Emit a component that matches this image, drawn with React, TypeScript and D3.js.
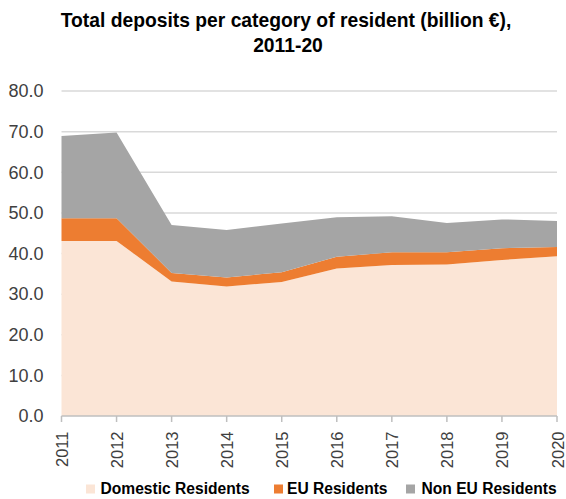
import React from "react";
import * as d3 from "d3";

const years = ["2011", "2012", "2013", "2014", "2015", "2016", "2017", "2018", "2019", "2020"];
const domestic = [43.1, 43.1, 33.1, 31.9, 33.0, 36.3, 37.2, 37.3, 38.4, 39.3];
const euResidents = [5.6, 5.6, 2.1, 2.2, 2.4, 2.9, 3.1, 3.0, 2.9, 2.3];
const nonEuResidents = [20.2, 21.1, 11.8, 11.7, 12.0, 9.7, 8.9, 7.2, 7.1, 6.4];
const seriesNames = ["Domestic Residents", "EU Residents", "Non EU Residents"];
const seriesColors = ["#FBE5D6", "#ED7D31", "#A5A5A5"];
const yTicks = [0, 10, 20, 30, 40, 50, 60, 70, 80];

const W = 566;
const H = 499;
const FONT = "'Liberation Sans', Arial, sans-serif";

export default function App() {
  const x = d3.scalePoint<string>().domain(years).range([61.5, 557]);
  const y = d3.scaleLinear().domain([0, 80]).range([416, 91]);

  const rows = years.map((yr, i) => ({
    year: yr,
    s0: domestic[i],
    s1: euResidents[i],
    s2: nonEuResidents[i],
  }));
  const stack = d3.stack<any>().keys(["s0", "s1", "s2"]);
  const layers = stack(rows);
  const area = d3
    .area<any>()
    .x((d) => x(d.data.year) as number)
    .y0((d) => y(d[0]))
    .y1((d) => y(d[1]));

  const legendItems = [
    { sx: 86, tx: 100.5 },
    { sx: 274, tx: 287 },
    { sx: 406, tx: 421.5 },
  ];

  return (
    <div style={{ position: "absolute", left: 0, top: 0 }}>
      <svg width={W} height={H} style={{ display: "block", background: "#fff" }}>
        <text
          x={286}
          y={26.7}
          textAnchor="middle"
          fontFamily={FONT}
          fontWeight="bold"
          fontSize={19.3}
          fill="#000"
        >
          Total deposits per category of resident (billion €),
        </text>
        <text
          x={288}
          y={51.7}
          textAnchor="middle"
          fontFamily={FONT}
          fontWeight="bold"
          fontSize={19.3}
          fill="#000"
        >
          2011-20
        </text>

        {yTicks.slice(1).map((t) => (
          <line
            key={"g" + t}
            x1={61.5}
            x2={557}
            y1={y(t)}
            y2={y(t)}
            stroke="#D9D9D9"
            strokeWidth={1.5}
          />
        ))}

        {layers.map((layer, i) => (
          <path key={"a" + i} d={area(layer as any) || ""} fill={seriesColors[i]} />
        ))}

        <line x1={61.5} x2={557} y1={y(0)} y2={y(0)} stroke="#BFBFBF" strokeWidth={1.5} />
        {years.map((yr) => (
          <line
            key={"t" + yr}
            x1={x(yr)}
            x2={x(yr)}
            y1={y(0)}
            y2={y(0) + 6}
            stroke="#BFBFBF"
            strokeWidth={1.5}
          />
        ))}

        {yTicks.map((t) => (
          <text
            key={"yl" + t}
            x={43.5}
            y={y(t)}
            dy="0.35em"
            textAnchor="end"
            fontFamily={FONT}
            fontSize={18}
            fill="#404040"
          >
            {t.toFixed(1)}
          </text>
        ))}

        {years.map((yr) => (
          <text
            key={"xl" + yr}
            transform={`translate(${(x(yr) as number) + 6.5},431.5) rotate(-90)`}
            textAnchor="end"
            fontFamily={FONT}
            fontSize={16.5}
            fill="#404040"
          >
            {yr}
          </text>
        ))}

        {seriesNames.map((name, i) => (
          <g key={"lg" + i}>
            <rect x={legendItems[i].sx} y={484.5} width={9} height={9} fill={seriesColors[i]} />
            <text
              x={legendItems[i].tx}
              y={494}
              fontFamily={FONT}
              fontWeight="bold"
              fontSize={15.6}
              fill="#000"
            >
              {name}
            </text>
          </g>
        ))}
      </svg>
    </div>
  );
}
